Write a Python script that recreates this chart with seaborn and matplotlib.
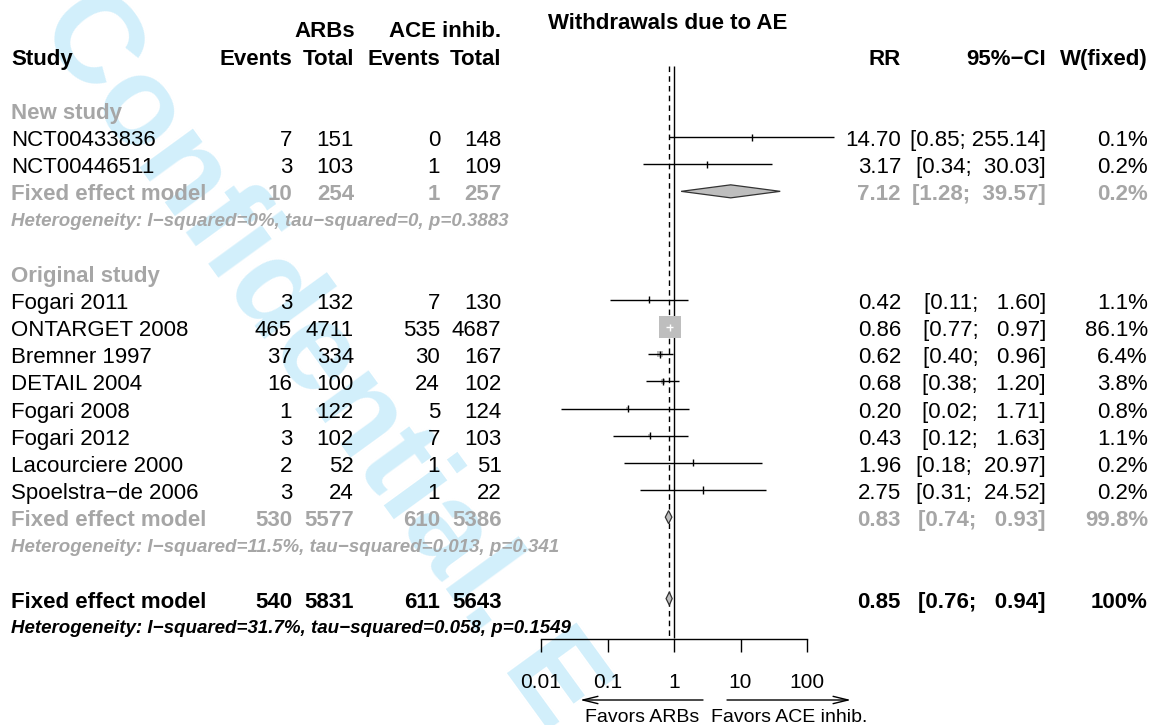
import numpy as np
import pandas as pd
import matplotlib
matplotlib.use("Agg")
import matplotlib.pyplot as plt
import matplotlib.transforms as mtransforms
from matplotlib.ticker import FixedLocator, FixedFormatter
import seaborn as sns

# ----------------------------- data -----------------------------
studies = ["NCT00433836", "NCT00446511", "Fogari 2011", "ONTARGET 2008",
           "Bremner 1997", "DETAIL 2004", "Fogari 2008", "Fogari 2012",
           "Lacourciere 2000", "Spoelstra\u2212de 2006"]
group = ["New study"] * 2 + ["Original study"] * 8
ev_arb = [7, 3, 3, 465, 37, 16, 1, 3, 2, 3]
n_arb = [151, 103, 132, 4711, 334, 100, 122, 102, 52, 24]
ev_ace = [0, 1, 7, 535, 30, 24, 5, 7, 1, 1]
n_ace = [148, 109, 130, 4687, 167, 102, 124, 103, 51, 22]
rr = [14.70, 3.17, 0.42, 0.86, 0.62, 0.68, 0.20, 0.43, 1.96, 2.75]
ci_lo = [0.85, 0.34, 0.11, 0.77, 0.40, 0.38, 0.02, 0.12, 0.18, 0.31]
ci_hi = [255.14, 30.03, 1.60, 0.97, 0.96, 1.20, 1.71, 1.63, 20.97, 24.52]
weight = [0.1, 0.2, 1.1, 86.1, 6.4, 3.8, 0.8, 1.1, 0.2, 0.2]

sub_names = ["New study", "Original study"]
sub_ev_arb = [10, 530]
sub_n_arb = [254, 5577]
sub_ev_ace = [1, 610]
sub_n_ace = [257, 5386]
sub_rr = [7.12, 0.83]
sub_lo = [1.28, 0.74]
sub_hi = [39.57, 0.93]
sub_w = [0.2, 99.8]
sub_het = ["Heterogeneity: I\u2212squared=0%, tau\u2212squared=0, p=0.3883",
           "Heterogeneity: I\u2212squared=11.5%, tau\u2212squared=0.013, p=0.341"]

ov_counts = [540, 5831, 611, 5643]
ov_rr, ov_lo, ov_hi, ov_w = 0.85, 0.76, 0.94, 100.0
ov_het = "Heterogeneity: I\u2212squared=31.7%, tau\u2212squared=0.058, p=0.1549"

tick_values = [0.01, 0.1, 1, 10, 100]
tick_labels = ["0.01", "0.1", "1", "10", "100"]
title = "Withdrawals due to AE"
label_left = "Favors ARBs"
label_right = "Favors ACE inhib."
watermark = "Confidential. E"

# ----------------------------- style -----------------------------
sns.set_theme(style="white")
plt.rcParams["font.family"] = ["Liberation Sans", "DejaVu Sans"]
plt.rcParams["text.color"] = "black"
plt.rcParams["xtick.color"] = "black"
plt.rcParams["axes.labelcolor"] = "black"
GRAY = "#a6a6a6"
FILL = "#bebebe"
W, H = 1153, 725
FS, FS_HET, FS_TICK = 16, 13.5, 15

fig = plt.figure(figsize=(W / 100, H / 100), dpi=100)

# watermark behind everything
fig.text(36 / W, 1 - 25 / H, watermark, rotation=-54, rotation_mode="anchor",
         ha="left", va="baseline", fontsize=90, fontweight="bold",
         color="#d2effb", zorder=-5)

# forest axes: x log scale, y = row index
PX_LEFT, PX_RIGHT, PX_AXIS = 541, 807, 638.5
ROW0, PITCH = 109.9, 27.15
r_top = (0 - ROW0) / PITCH
r_bot = (PX_AXIS - ROW0) / PITCH
ax = fig.add_axes([PX_LEFT / W, (H - PX_AXIS) / H, (PX_RIGHT - PX_LEFT) / W, PX_AXIS / H])
ax.set_facecolor("none")
ax.set_xscale("log")
ax.set_xlim(tick_values[0], tick_values[-1])
ax.set_ylim(r_bot, r_top)

tx = mtransforms.blended_transform_factory(fig.transFigure, ax.transData)

def put(px, row, s, ha="right", fontsize=FS, color="black", **kw):
    # place text so that its capital letters are centred 1 px below the row centre
    cap_half = 0.716 * fontsize * 100 / 72 / 2
    y = row + (1 + cap_half) / PITCH
    ax.text(px / W, y, s, transform=tx, ha=ha, va="baseline", fontsize=fontsize,
            color=color, clip_on=False, **kw)

# columns (right edges in px)
X_STUDY, X_E1, X_T1, X_E2, X_T2 = 11, 292, 354, 440, 501.5
X_RR, X_CI, X_W = 901, 1046, 1148

# headers
put(668, -3.3, title, ha="center", fontweight="bold")
put(X_T1 + 1, -3, "ARBs", fontweight="bold")
put(X_T2, -3, "ACE inhib.", fontweight="bold")
put(X_STUDY, -2, "Study", ha="left", fontweight="bold")
for x, s in zip([X_E1, X_T1, X_E2, X_T2], ["Events", "Total", "Events", "Total"]):
    put(x, -2, s, fontweight="bold")
put(X_RR, -2, "RR", fontweight="bold")
put(X_CI, -2, "95%\u2212CI", fontweight="bold")
put(X_W, -2, "W(fixed)", fontweight="bold")

all_hi = ci_hi + sub_hi + [ov_hi]
hi_w = max(len(f"{v:.2f}") for v in all_hi)

def ci_str(lo, hi):
    return f"[{lo:.2f}; {f'{hi:.2f}':>{hi_w}}]"

def w_str(w):
    return "100%" if w >= 100 else f"{w:.1f}%"

df = pd.DataFrame(dict(study=studies, group=group, ev_arb=ev_arb, n_arb=n_arb,
                       ev_ace=ev_ace, n_ace=n_ace, rr=rr, lo=ci_lo, hi=ci_hi, w=weight))

# assign rows
row = 0
study_rows, fe_rows, het_rows = [], [], []
for gi, g in enumerate(sub_names):
    put(X_STUDY, row, g, ha="left", fontweight="bold", color=GRAY)
    row += 1
    for _ in df.index[df.group == g]:
        study_rows.append(row)
        row += 1
    fe_rows.append(row)
    row += 1
    het_rows.append(row)
    row += 2
ov_row = row
ov_het_row = row + 1
df["row"] = study_rows

# study text
for _, d in df.iterrows():
    r = d["row"]
    put(X_STUDY, r, d["study"], ha="left")
    for x, v in zip([X_E1, X_T1, X_E2, X_T2], [d.ev_arb, d.n_arb, d.ev_ace, d.n_ace]):
        put(x, r, f"{int(v)}")
    put(X_RR, r, f"{d.rr:.2f}")
    put(X_CI, r, ci_str(d.lo, d.hi))
    put(X_W, r, w_str(d.w))

# subgroup fixed-effect rows
for gi in range(len(sub_names)):
    r = fe_rows[gi]
    put(X_STUDY, r, "Fixed effect model", ha="left", fontweight="bold", color=GRAY)
    for x, v in zip([X_E1, X_T1, X_E2, X_T2],
                    [sub_ev_arb[gi], sub_n_arb[gi], sub_ev_ace[gi], sub_n_ace[gi]]):
        put(x, r, f"{v}", fontweight="bold", color=GRAY)
    put(X_RR, r, f"{sub_rr[gi]:.2f}", fontweight="bold", color=GRAY)
    put(X_CI, r, ci_str(sub_lo[gi], sub_hi[gi]), fontweight="bold", color=GRAY)
    put(X_W, r, w_str(sub_w[gi]), fontweight="bold", color=GRAY)
    put(X_STUDY, het_rows[gi], sub_het[gi], ha="left", fontsize=FS_HET,
        fontweight="bold", fontstyle="italic", color=GRAY)

# overall row
put(X_STUDY, ov_row, "Fixed effect model", ha="left", fontweight="bold")
for x, v in zip([X_E1, X_T1, X_E2, X_T2], ov_counts):
    put(x, ov_row, f"{v}", fontweight="bold")
put(X_RR, ov_row, f"{ov_rr:.2f}", fontweight="bold")
put(X_CI, ov_row, ci_str(ov_lo, ov_hi), fontweight="bold")
put(X_W, ov_row, w_str(ov_w), fontweight="bold")
put(X_STUDY, ov_het_row, ov_het, ha="left", fontsize=FS_HET, fontweight="bold",
    fontstyle="italic")

# reference lines
line_top = (66 - ROW0) / PITCH
ax.vlines(1, line_top, r_bot, color="black", lw=1.0, zorder=2)
ax.vlines(ov_rr, line_top, r_bot, color="black", lw=1.0, linestyles=(0, (4, 3)), zorder=2)

# squares sized by weight (area proportional to weight)
SQ_K = 22 / np.sqrt(86.1)           # px side per sqrt(weight)
side_px = SQ_K * np.sqrt(df["w"].to_numpy())
sns.scatterplot(data=df, x="rr", y="row", marker="s", s=(side_px / 1.389) ** 2,
                color=FILL, linewidth=0, ax=ax, zorder=3, legend=False, clip_on=False)

# CI lines and point ticks
DEC_PX = (PX_RIGHT - PX_LEFT) / 4
for _, d in df.iterrows():
    half = (SQ_K * np.sqrt(d.w) / 2) / DEC_PX
    inside = (np.log10(d.lo) >= np.log10(d.rr) - half) and (np.log10(d.hi) <= np.log10(d.rr) + half)
    col = "white" if inside else "black"
    ax.hlines(d.row, d.lo, d.hi, color=col, lw=1.0, zorder=4, clip_on=False)
    ax.vlines(d.rr, d.row - 0.13, d.row + 0.13, color=col, lw=1.0, zorder=4, clip_on=False)

# diamonds
DH = 0.24
for gi in range(len(sub_names)):
    r = fe_rows[gi]
    ax.fill([sub_lo[gi], sub_rr[gi], sub_hi[gi], sub_rr[gi]], [r, r - DH, r, r + DH],
            facecolor=FILL, edgecolor="#333333", lw=0.9, zorder=4, clip_on=False)
ax.fill([ov_lo, ov_rr, ov_hi, ov_rr], [ov_row, ov_row - DH, ov_row, ov_row + DH],
        facecolor=FILL, edgecolor="#333333", lw=0.9, zorder=4, clip_on=False)

# axis styling
for s in ["top", "left", "right"]:
    ax.spines[s].set_visible(False)
ax.spines["bottom"].set_bounds(tick_values[0], tick_values[-1])
ax.spines["bottom"].set_linewidth(1.0)
ax.spines["bottom"].set_color("black")
ax.xaxis.set_major_locator(FixedLocator(tick_values))
ax.xaxis.set_major_formatter(FixedFormatter(tick_labels))
ax.xaxis.set_minor_locator(FixedLocator([]))
ax.tick_params(axis="x", which="major", direction="out", length=9.4, width=1.0,
               labelsize=FS_TICK, pad=15.5, bottom=True, colors="black")
ax.set_yticks([])
ax.set_xlabel("")
ax.set_ylabel("")
ax.grid(False)

# favours arrows
arr_y = 1 - 700 / H
aprops = dict(arrowstyle="->,head_length=0.9,head_width=0.22", lw=1.0, color="black",
              mutation_scale=12, shrinkA=0, shrinkB=0)
ax.annotate("", xy=(580 / W, arr_y), xytext=(703 / W, arr_y), xycoords="figure fraction",
            arrowprops=aprops)
ax.annotate("", xy=(851 / W, arr_y), xytext=(727 / W, arr_y), xycoords="figure fraction",
            arrowprops=aprops)
fig.text(642 / W, 1 - 717 / H, label_left, ha="center", va="center", fontsize=14, color="black")
fig.text(789 / W, 1 - 717 / H, label_right, ha="center", va="center", fontsize=14, color="black")

fig.savefig("out.png", dpi=100, facecolor="white")
